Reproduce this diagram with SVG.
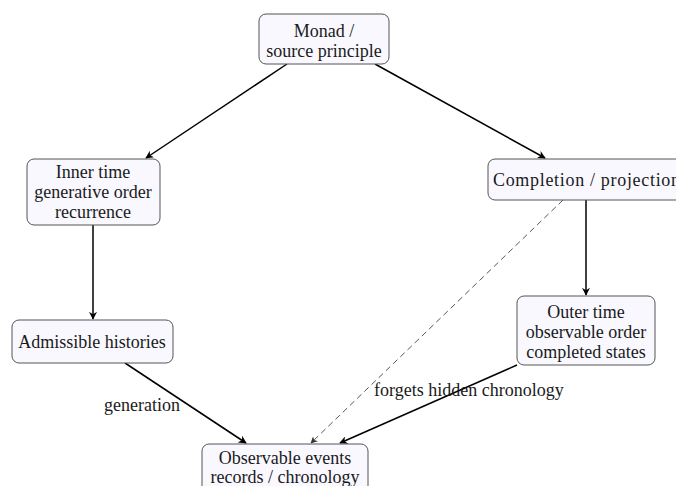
<svg xmlns="http://www.w3.org/2000/svg" width="676" height="486" viewBox="0 0 676 486" font-family="'Liberation Serif', 'DejaVu Serif', serif">
<defs>
<marker id="arr" viewBox="0 0 10 10" refX="9" refY="5" markerWidth="8" markerHeight="8" markerUnits="userSpaceOnUse" orient="auto">
<path d="M0,0 L10,5 L0,10 L3,5 Z" fill="#000"/>
</marker>
<marker id="arrd" viewBox="0 0 10 10" refX="9" refY="5" markerWidth="7" markerHeight="7" markerUnits="userSpaceOnUse" orient="auto">
<path d="M0,0 L10,5 L0,10 L3,5 Z" fill="#333"/>
</marker>
</defs>
<style>
.box{fill:#f9f8ff;stroke:#555;stroke-width:1}
text{font-family:'Liberation Serif','DejaVu Serif',serif;font-size:18px;fill:#1a1a1a;text-anchor:middle}
.lbl{text-anchor:start}
.e{stroke:#000;stroke-width:1.5;fill:none;marker-end:url(#arr)}
.d{stroke:#444;stroke-width:0.9;fill:none;stroke-dasharray:6,4;marker-end:url(#arrd)}
</style>
<rect width="676" height="486" fill="#fff"/>
<g id="connectors">
<line class="e" x1="287" y1="64" x2="146" y2="158"/>
<line class="e" x1="375" y1="64" x2="545" y2="158"/>
<line class="e" x1="93" y1="225" x2="93" y2="319"/>
<line class="e" x1="586" y1="200" x2="586" y2="295"/>
<line class="e" x1="125" y1="363" x2="246" y2="443"/>
<line class="e" x1="517" y1="365" x2="340" y2="443"/>
<line class="d" x1="563" y1="200" x2="311" y2="443"/>
<text class="lbl" x="104" y="411">generation</text>
<text class="lbl" x="374" y="396">forgets hidden chronology</text>
</g>
<g id="monad">
<rect class="box" x="259" y="14" width="130" height="50" rx="7"/>
<text x="324" y="37">Monad /</text>
<text x="324" y="57">source principle</text>
</g>
<g id="inner">
<rect class="box" x="27" y="159" width="133" height="66" rx="7"/>
<text x="93" y="178">Inner time</text>
<text x="93" y="198">generative order</text>
<text x="93" y="218">recurrence</text>
</g>
<g id="completion">
<rect class="box" x="488" y="159" width="200" height="41" rx="7"/>
<text x="493" y="186" class="lbl" textLength="187" lengthAdjust="spacing">Completion / projection</text>
</g>
<g id="admissible">
<rect class="box" x="12" y="320" width="161" height="43" rx="7"/>
<text x="92" y="348">Admissible histories</text>
</g>
<g id="outer">
<rect class="box" x="517" y="296" width="138" height="69" rx="7"/>
<text x="586" y="318">Outer time</text>
<text x="586" y="338">observable order</text>
<text x="586" y="358">completed states</text>
</g>
<g id="observable">
<rect class="box" x="202" y="444" width="166" height="52" rx="7"/>
<text x="285" y="464">Observable events</text>
<text x="285" y="483">records / chronology</text>
</g>
</svg>
